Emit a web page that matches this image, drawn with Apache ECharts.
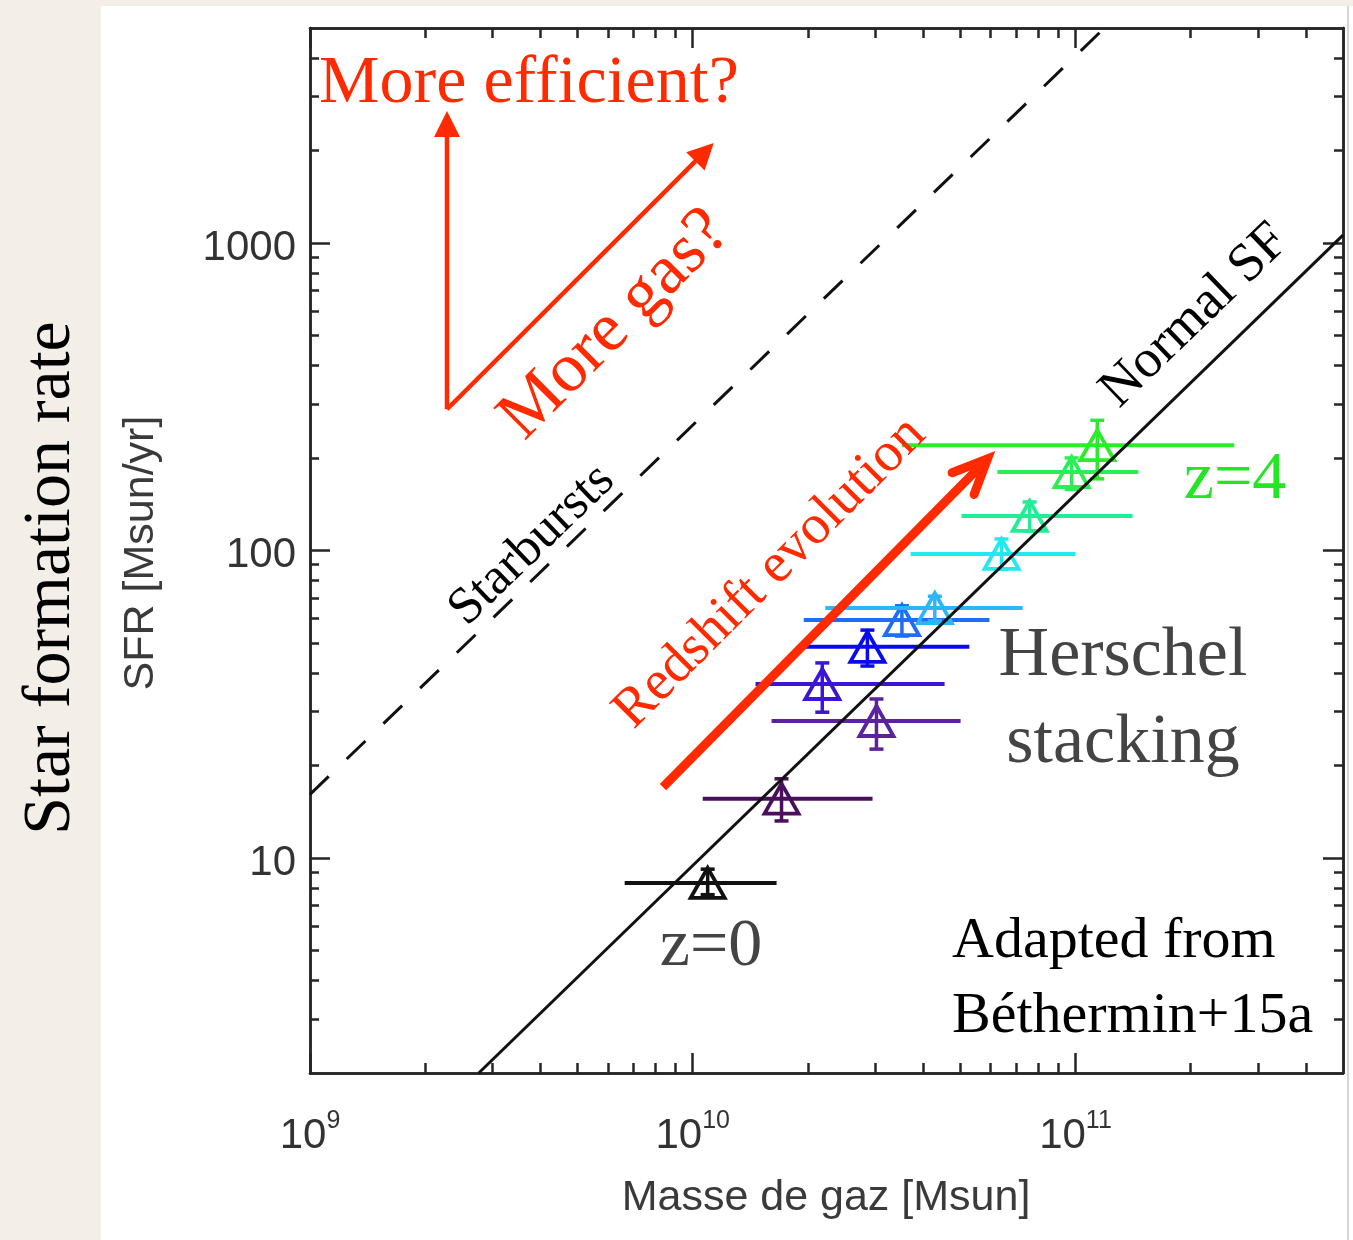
<!DOCTYPE html>
<html>
<head>
<meta charset="utf-8">
<script src="https://cdn.jsdelivr.net/npm/echarts@6/dist/echarts.min.js"></script>
<style>
html,body{margin:0;padding:0;background:#f3efe8;}
#chart{width:1353px;height:1240px;}
</style>
</head>
<body>
<div id="chart"></div>
<script>
// ---------------- data ----------------
const pointLabels = ['z=0','p1','p2','p3','p4','p5','p6','p7','p8','p9','z=4'];
const gasMass     = [1.094e10, 1.706e10, 3.02e10, 2.18e10, 2.86e10, 3.52e10, 4.29e10, 6.41e10, 7.59e10, 9.77e10, 1.14e11];
const gasMassLow  = [6.64e9, 1.062e10, 1.607e10, 1.459e10, 1.936e10, 1.95e10, 2.22e10, 3.71e10, 5.04e10, 6.25e10, 3.52e10];
const gasMassHigh = [1.656e10, 2.95e10, 5.01e10, 4.55e10, 5.28e10, 5.96e10, 7.28e10, 1.0e11, 1.41e11, 1.46e11, 2.60e11];
const sfr         = [8.3, 15.6, 27.9, 36.8, 48.6, 59.4, 65.0, 97.5, 129.5, 180, 220];
const sfrLow      = [7.6, 13.2, 22.6, 29.8, 42.1, 52.7, 59, 87, 115.6, 158, 171];
const sfrHigh     = [9.2, 18.1, 32.9, 43.1, 55.1, 66.1, 71, 109, 143.8, 200, 265];
const pointColors = ['#111111','#4a0f5c','#5b229c','#3c14d6','#0a0af0','#1e6cf8','#2cb6fa','#22e8f0','#20ee96','#2aee55','#2aec2a'];

const normalSFLine  = [[2.76e9, 2.0], [5e11, 1060]];
const starburstLine = [[1e9, 16.1], [1.19e11, 5000]];

const xMajorTicks = [1e9, 1e10, 1e11];
const xMinorTicks = [2e9,3e9,4e9,5e9,6e9,7e9,8e9,9e9,2e10,3e10,4e10,5e10,6e10,7e10,8e10,9e10,2e11,3e11,4e11];
const yMajorTicks = [10, 100, 1000];
const yMinorTicks = [3,4,5,6,7,8,9,20,30,40,50,60,70,80,90,200,300,400,500,600,700,800,900,2000,3000,4000];

// annotation arrows (data coordinates)
const arrowFrom = [[2.28e9, 288], [2.28e9, 288], [8.36e9, 17.0]];
const arrowTo   = [[2.28e9, 2685], [1.135e10, 2114], [5.89e10, 198.5]];
const arrowKind = ['filled', 'filled', 'chevron'];

// ---------------- chart ----------------
const chart = echarts.init(document.getElementById('chart'), null, {renderer: 'canvas'});
const axisColor = '#262626';
const SERIF = "'Liberation Serif', 'DejaVu Serif', serif";
const SANS = "'Liberation Sans', Arial, sans-serif";
const RED = '#ff2a00';

function mkX(pos, ticks, len, withLabels) {
  return {
    type: 'log', logBase: 10, min: 1e9, max: 5e11, position: pos,
    axisLine: {show: true, onZero: false, lineStyle: {color: axisColor, width: 2.5}},
    axisTick: {show: true, inside: true, length: len, customValues: ticks, lineStyle: {color: axisColor, width: 2.5}},
    axisLabel: withLabels ? {
      show: true, customValues: xMajorTicks, margin: 36,
      formatter: v => '{a|10}{b|' + Math.round(Math.log10(v)) + '}',
      rich: {
        a: {fontSize: 42, fontFamily: SANS, color: '#333', lineHeight: 54},
        b: {fontSize: 25, fontFamily: SANS, color: '#333', lineHeight: 24, verticalAlign: 'top'}
      }
    } : {show: false},
    splitLine: {show: false}, minorTick: {show: false}
  };
}
function mkY(pos, ticks, len, withLabels) {
  return {
    type: 'log', logBase: 10, min: 2, max: 5000, position: pos,
    axisLine: {show: true, onZero: false, lineStyle: {color: axisColor, width: 2.5}},
    axisTick: {show: true, inside: true, length: len, customValues: ticks, lineStyle: {color: axisColor, width: 2.5}},
    axisLabel: withLabels ? {
      show: true, customValues: yMajorTicks, margin: 14,
      formatter: v => '{n|' + Math.round(v) + '}',
      rich: {n: {fontSize: 42, fontFamily: SANS, color: '#333', lineHeight: 44, padding: [10, 0, 0, 0]}}
    } : {show: false},
    splitLine: {show: false}, minorTick: {show: false}
  };
}

const pointData = gasMass.map((m, i) => [m, sfr[i], gasMassLow[i], gasMassHigh[i], sfrLow[i], sfrHigh[i]]);
const arrowData = arrowFrom.map((p, i) => [p[0], p[1], arrowTo[i][0], arrowTo[i][1]]);

function renderPoint(params, api) {
  const i = params.dataIndex;
  const col = pointColors[i];
  const c  = api.coord([api.value(0), api.value(1)]);
  const l  = api.coord([api.value(2), api.value(1)]);
  const r  = api.coord([api.value(3), api.value(1)]);
  const lo = api.coord([api.value(0), api.value(4)]);
  const hi = api.coord([api.value(0), api.value(5)]);
  const hw = 17, th = 15, cap = 7;
  return {
    type: 'group',
    children: [
      {type: 'line', shape: {x1: l[0], y1: c[1], x2: r[0], y2: c[1]}, style: {stroke: col, lineWidth: 4}},
      {type: 'line', shape: {x1: c[0], y1: lo[1], x2: c[0], y2: hi[1]}, style: {stroke: col, lineWidth: 3.5}},
      {type: 'line', shape: {x1: c[0]-cap, y1: lo[1], x2: c[0]+cap, y2: lo[1]}, style: {stroke: col, lineWidth: 3.5}},
      {type: 'line', shape: {x1: c[0]-cap, y1: hi[1], x2: c[0]+cap, y2: hi[1]}, style: {stroke: col, lineWidth: 3.5}},
      {type: 'polygon', shape: {points: [[c[0], c[1]-th], [c[0]+hw, c[1]+th], [c[0]-hw, c[1]+th]]},
       style: {fill: 'none', stroke: col, lineWidth: 3.8, lineJoin: 'miter'}}
    ]
  };
}

function renderArrow(params, api) {
  const i = params.dataIndex;
  const p1 = api.coord([api.value(0), api.value(1)]);
  const p2 = api.coord([api.value(2), api.value(3)]);
  const dx = p2[0]-p1[0], dy = p2[1]-p1[1];
  const len = Math.hypot(dx, dy);
  const ux = dx/len, uy = dy/len, nx = -uy, ny = ux;
  if (arrowKind[i] === 'filled') {
    const hl = 26, hwid = 13;
    const bx = p2[0]-ux*hl, by = p2[1]-uy*hl;
    return {type: 'group', children: [
      {type: 'line', shape: {x1: p1[0], y1: p1[1], x2: bx+ux*2, y2: by+uy*2}, style: {stroke: RED, lineWidth: 4.5}},
      {type: 'polygon', shape: {points: [[p2[0], p2[1]], [bx+nx*hwid, by+ny*hwid], [bx-nx*hwid, by-ny*hwid]]}, style: {fill: RED}}
    ]};
  } else {
    const legLen = 38, a = 24*Math.PI/180;
    const bxu = -ux, byu = -uy;
    const l1 = [p2[0] + legLen*(Math.cos(a)*bxu - Math.sin(a)*byu), p2[1] + legLen*(Math.sin(a)*bxu + Math.cos(a)*byu)];
    const l2 = [p2[0] + legLen*(Math.cos(-a)*bxu - Math.sin(-a)*byu), p2[1] + legLen*(Math.sin(-a)*bxu + Math.cos(-a)*byu)];
    return {type: 'group', children: [
      {type: 'line', shape: {x1: p1[0], y1: p1[1], x2: p2[0]-ux*3, y2: p2[1]-uy*3}, style: {stroke: RED, lineWidth: 9}},
      {type: 'polyline', shape: {points: [l1, [p2[0], p2[1]], l2]}, style: {stroke: RED, lineWidth: 9, lineCap: 'round', lineJoin: 'miter', fill: 'none'}}
    ]};
  }
}

function txt(text, x, y, size, color, family, rotDeg, align) {
  return {
    type: 'text', x: x, y: y, rotation: (rotDeg || 0) * Math.PI / 180, z: 50,
    style: {text: text, fill: color, fontSize: size, fontFamily: family,
            align: align || 'center', verticalAlign: 'middle',
            textAlign: align || 'center', textVerticalAlign: 'middle'}
  };
}

const option = {
  animation: false,
  backgroundColor: '#f3efe8',
  grid: {left: 310, right: 10, top: 28, bottom: 167, containLabel: false},
  xAxis: [mkX('bottom', xMajorTicks, 20, true), mkX('bottom', xMinorTicks, 10, false),
          mkX('top', xMajorTicks, 20, false), mkX('top', xMinorTicks, 10, false)],
  yAxis: [mkY('left', yMajorTicks, 20, true), mkY('left', yMinorTicks, 9, false),
          mkY('right', yMajorTicks, 20, false), mkY('right', yMinorTicks, 9, false)],
  graphic: [
    {type: 'rect', shape: {x: 101, y: 6, width: 1252, height: 1234}, style: {fill: '#ffffff'}, z: -100, silent: true},
    {type: 'line', shape: {x1: 1348, y1: 6, x2: 1348, y2: 1240}, style: {stroke: '#c8c8c8', lineWidth: 1.5}, z: -99, silent: true},
    txt('More efficient?', 529, 84, 68, RED, SERIF, 0),
    txt('More gas?', 615, 325, 70, RED, SERIF, 45),
    txt('Starbursts', 532, 545, 52, '#000', SERIF, 44),
    txt('Normal SF', 1195, 316, 54, '#000', SERIF, 44),
    txt('Redshift evolution', 770, 573, 56, RED, SERIF, 45),
    txt('z=4', 1235, 480, 68, '#22e622', SERIF, 0),
    txt('Herschel', 1123, 657, 70, '#444', SERIF, 0),
    txt('stacking', 1123, 744, 70, '#444', SERIF, 0),
    txt('z=0', 711, 947, 68, '#444', SERIF, 0),
    txt('Adapted from', 952, 942, 58, '#000', SERIF, 0, 'left'),
    txt('Béthermin+15a', 952, 1017, 58, '#000', SERIF, 0, 'left'),
    txt('Star formation rate', 51, 578, 68, '#000', SERIF, 90),
    txt('SFR [Msun/yr]', 141, 553, 43, '#3a3a3a', SANS, 90),
    txt('Masse de gaz [Msun]', 826, 1198, 43, '#3a3a3a', SANS, 0)
  ],
  series: [
    {type: 'custom', name: 'Herschel stacking', xAxisIndex: 0, yAxisIndex: 0, clip: false, z: 3,
     encode: {x: [0, 2, 3], y: [1, 4, 5]}, data: pointData, renderItem: renderPoint},
    {type: 'line', name: 'Normal SF', xAxisIndex: 0, yAxisIndex: 0, data: normalSFLine, symbol: 'none', z: 4,
     lineStyle: {color: '#111', width: 3}},
    {type: 'line', name: 'Starbursts', xAxisIndex: 0, yAxisIndex: 0, data: starburstLine, symbol: 'none', z: 4,
     lineStyle: {color: '#111', width: 3, type: [26, 25]}},
    {type: 'custom', name: 'arrows', xAxisIndex: 0, yAxisIndex: 0, clip: false, z: 5,
     encode: {x: [0, 2], y: [1, 3]}, data: arrowData, renderItem: renderArrow}
  ]
};
chart.setOption(option);
</script>
</body>
</html>
